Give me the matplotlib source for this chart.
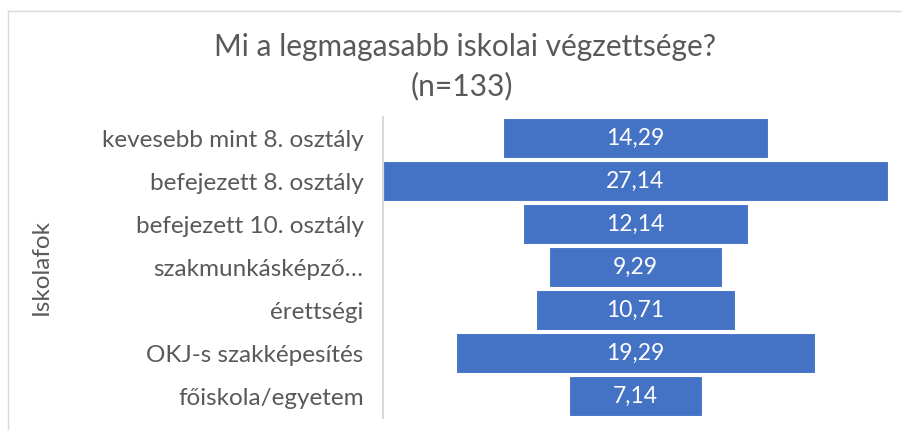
import matplotlib.pyplot as plt
from matplotlib.lines import Line2D

# -------------------------
# Data
# -------------------------

categories = [
    "kevesebb mint 8. osztály",
    "befejezett 8. osztály",
    "befejezett 10. osztály",
    "szakmunkásképző…",
    "érettségi",
    "OKJ-s szakképesítés",
    "főiskola/egyetem",
]
values = [14.29, 27.14, 12.14, 9.29, 10.71, 19.29, 7.14]
value_labels = ["14,29", "27,14", "12,14", "9,29", "10,71", "19,29", "7,14"]

title_lines = ["Mi a legmagasabb iskolai végzettsége?", "(n=133)"]
y_title = "Iskolafok"

# -------------------------
# Plot
# -------------------------

plt.rcParams["font.family"] = ["Lato", "DejaVu Sans"]

fig = plt.figure(figsize=(9.03, 4.30), dpi=100)
ax = fig.add_axes([0.4241, 0.028, 0.5593, 0.700])

bar_color = "#4472c4"
text_gray = "#595959"

pos = list(range(len(categories)))
lefts = [-v / 2 for v in values]

ax.barh(
    pos,
    values,
    left=lefts,
    height=0.93,
    color=bar_color,
    edgecolor="white",
    linewidth=0.8,
)

for p, lab in zip(pos, value_labels):
    ax.text(0, p, lab, ha="center", va="center",
            color="white", fontsize=16.5)

m = max(values) / 2
ax.set_xlim(-m, m)
ax.set_ylim(len(categories) - 0.5, -0.5)

ax.set_yticks(pos)
ax.set_yticklabels(categories, fontsize=17.5, color=text_gray)
ax.tick_params(axis="y", length=0, pad=14)
ax.set_xticks([])

for s in ["top", "right", "bottom"]:
    ax.spines[s].set_visible(False)
ax.spines["left"].set_color("#d9d9d9")
ax.spines["left"].set_linewidth(1.5)

ax.set_ylabel(y_title, fontsize=17.5, color=text_gray)
ax.yaxis.set_label_coords(-0.655, 0.5)

fig.text(0.515, 1 - 47 / 430, title_lines[0], ha="center", va="center",
         fontsize=21.5, color=text_gray)
fig.text(0.512, 1 - 86 / 430, title_lines[1], ha="center", va="center",
         fontsize=21.5, color=text_gray)

# chart frame (only top and left edges are visible)
fig.add_artist(Line2D([8 / 903, 1], [1 - 11 / 430, 1 - 11 / 430],
                      transform=fig.transFigure, color="#d9d9d9", lw=1))
fig.add_artist(Line2D([8 / 903, 8 / 903], [0, 1 - 11 / 430],
                      transform=fig.transFigure, color="#d9d9d9", lw=1))

fig.savefig("out.png", dpi=100)
